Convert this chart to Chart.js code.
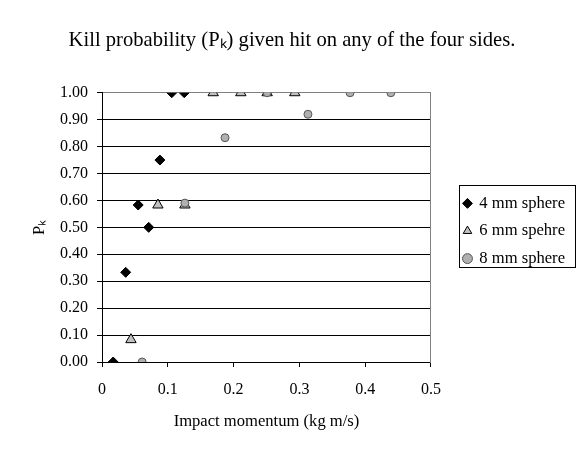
<!DOCTYPE html>
<html>
<head>
<meta charset="utf-8">
<script src="https://cdn.jsdelivr.net/npm/chart.js@4/dist/chart.umd.min.js"></script>
<style>
  html, body { margin: 0; padding: 0; background: #fff; }
  #wrap { width: 584px; height: 456px; }
</style>
</head>
<body>
<div id="wrap"><canvas id="grafico" width="584" height="456"></canvas></div>
<script>
// values (x = impact momentum, y = Pk)
const x4mm = [0.017, 0.036, 0.055, 0.071, 0.088, 0.106, 0.125];
const y4mm = [0, 0.333, 0.583, 0.5, 0.75, 1, 1];
const x6mm = [0.044, 0.085, 0.126, 0.169, 0.211, 0.251, 0.293];
const y6mm = [0.083, 0.583, 0.583, 1, 1, 1, 1];
const x8mm = [0.061, 0.126, 0.187, 0.251, 0.313, 0.377, 0.439];
const y8mm = [0, 0.59, 0.833, 1, 0.92, 1, 1];

const seriesNames = ['4 mm sphere', '6 mm spehre', '8 mm sphere'];
const serif = 'Liberation Serif, Times New Roman, serif';

function pontos(xs, ys) {
  return xs.map((x, i) => ({ x: x, y: ys[i] }));
}

// box around the legend, like the original
const legendBorder = {
  id: 'legendBorder',
  afterDraw(chart) {
    const boxes = chart.legend && chart.legend.legendHitBoxes;
    if (!boxes || !boxes.length) return;
    const first = boxes[0];
    const last = boxes[boxes.length - 1];
    const left = first.left - 5;
    const top = first.top - 10;
    const right = chart.legend.right;
    const bottom = last.top + last.height;
    const ctx = chart.ctx;
    ctx.save();
    ctx.strokeStyle = '#000';
    ctx.lineWidth = 1;
    ctx.strokeRect(Math.round(left) + 0.5, Math.round(top) + 0.5, Math.round(right - left), Math.round(bottom - top));
    ctx.restore();
  }
};

const ctx = document.getElementById('grafico').getContext('2d');
new Chart(ctx, {
  type: 'scatter',
  data: {
    datasets: [{
      label: seriesNames[0],
      data: pontos(x4mm, y4mm),
      pointStyle: 'rectRot',
      pointRadius: 5,
      pointHoverRadius: 5,
      backgroundColor: '#000',
      borderColor: '#000',
      borderWidth: 1,
      order: 2
    }, {
      label: seriesNames[1],
      data: pontos(x6mm, y6mm),
      pointStyle: 'triangle',
      pointRadius: 6,
      pointHoverRadius: 6,
      backgroundColor: '#c0c0c0',
      borderColor: '#000',
      borderWidth: 1,
      order: 1
    }, {
      label: seriesNames[2],
      data: pontos(x8mm, y8mm),
      pointStyle: 'circle',
      pointRadius: 4,
      pointHoverRadius: 4,
      backgroundColor: '#b0b0b0',
      borderColor: '#555',
      borderWidth: 1,
      order: 0
    }]
  },
  options: {
    responsive: false,
    animation: false,
    layout: { padding: { left: 9, right: 9, top: 0, bottom: 0 } },
    plugins: {
      title: {
        display: true,
        text: 'Kill probability (Pₖ) given hit on any of the four sides.',
        color: '#000',
        font: { family: serif, size: 20.6, weight: 'normal' },
        padding: { top: 28, bottom: 40 }
      },
      legend: {
        position: 'right',
        maxWidth: 140,
        title: { display: true, text: '', font: { size: 5 }, padding: 0 },
        labels: {
          usePointStyle: true,
          boxWidth: 7,
          boxHeight: 7,
          padding: 11,
          color: '#000',
          font: { family: serif, size: 16.6 },
          sort: (a, b) => a.datasetIndex - b.datasetIndex
        }
      },
      tooltip: { enabled: false }
    },
    scales: {
      x: {
        type: 'linear',
        min: 0,
        max: 0.5,
        afterFit(scale) { scale.height = 94; },
        ticks: {
          stepSize: 0.1,
          padding: 13,
          color: '#000',
          font: { family: serif, size: 16 },
          callback: v => v === 0 ? '0' : v.toFixed(1)
        },
        grid: { drawOnChartArea: false, tickLength: 5, tickColor: '#000' },
        border: { color: '#000' },
        title: {
          display: true,
          text: 'Impact momentum (kg m/s)',
          color: '#000',
          font: { family: serif, size: 16.6 },
          padding: { top: 0, bottom: 24 }
        }
      },
      y: {
        min: 0,
        max: 1,
        afterFit(scale) { scale.width = 93; },
        ticks: {
          stepSize: 0.1,
          padding: 9,
          color: '#000',
          font: { family: serif, size: 16 },
          callback: v => v.toFixed(2)
        },
        grid: {
          color: c => (c.tick && c.tick.value === 1) ? '#808080' : '#000',
          tickLength: 5,
          tickColor: '#000'
        },
        border: { color: '#000' },
        title: {
          display: true,
          text: 'Pₖ',
          color: '#000',
          font: { family: serif, size: 16.6 },
          padding: { top: 21, bottom: 0 }
        }
      },
      // right edge of the plot area, gray like the original
      y2: {
        type: 'linear',
        position: 'right',
        min: 0,
        max: 1,
        afterFit(scale) { scale.width = 22; },
        ticks: { display: false },
        grid: { display: false },
        border: { color: '#808080' }
      }
    }
  },
  plugins: [legendBorder]
});
</script>
</body>
</html>
